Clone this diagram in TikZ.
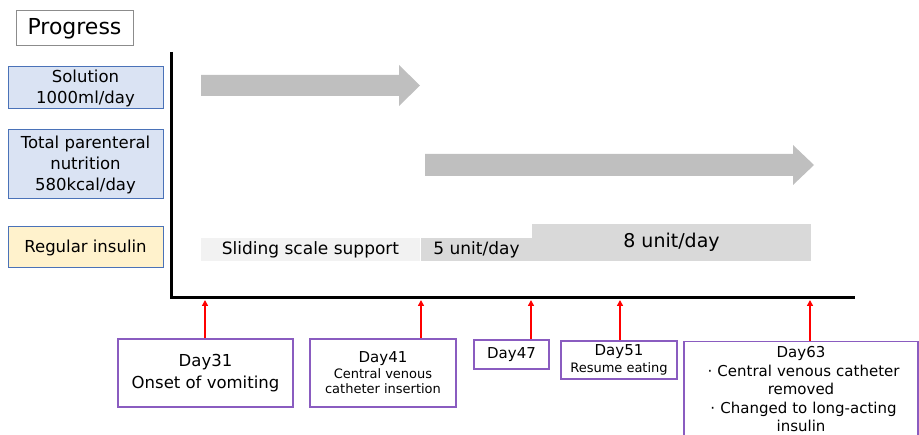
\documentclass[tikz,border=0pt]{standalone}
\usepackage{fontspec}
\setmainfont{DejaVu Sans}
\usepackage{tikz}
\usetikzlibrary{arrows.meta,positioning}
\usepackage{xcolor}
\definecolor{RowBlue}{HTML}{DAE3F3}
\definecolor{RowEdge}{HTML}{4A72B8}
\definecolor{RowYellow}{HTML}{FFF2CC}
\definecolor{FrameGray}{HTML}{8C8C8C}
\definecolor{EventPurple}{HTML}{8A5CC0}
\definecolor{ArrowGray}{HTML}{BFBFBF}
\definecolor{BarLight}{HTML}{F2F2F2}
\definecolor{BarMid}{HTML}{D9D9D9}

\newcommand{\fs}[2]{\fontsize{#1}{#2}\selectfont}

\begin{document}
\begin{tikzpicture}[x=1pt, y=-1pt,
  row/.style={draw=RowEdge, line width=1pt, minimum width=155pt, inner sep=0pt,
              align=center, font=\fs{16.5}{21}},
  evt/.style={draw=EventPurple, line width=1.2pt, inner sep=0pt, align=center},
  bar/.style={inner sep=0pt, font=\fs{17}{20}},
  tick/.style={draw=red, line width=1.6pt, -{Triangle[length=6pt,width=6pt]}}
]
  \useasboundingbox (0,0) rectangle (919,435);

  \node[draw=FrameGray, line width=1pt, minimum width=117pt, minimum height=35pt,
        inner sep=0pt, font=\fs{22}{24}] (prog) at (74.5,28.5) {Progress};

  % left hand labels
  \node[row, fill=RowBlue, minimum height=42pt] (sol) at (85.5,88)
    {Solution\\1000ml/day};
  \node[row, fill=RowBlue, minimum height=69pt] (tpn) at (85.5,164.5)
    {Total parenteral\\nutrition\\580kcal/day};
  \node[row, fill=RowYellow, minimum height=41pt] (ins) at (85.5,247.5)
    {Regular insulin};

  % axes
  \draw[line width=3pt] (171,52) -- (171,298) -- (855,298);

  % gray arrows
  \fill[ArrowGray] (201,75) -- (399,75) -- (399,65) -- (420,85.5) -- (399,106)
    -- (399,96) -- (201,96) -- cycle;
  \fill[ArrowGray] (425,154) -- (793,154) -- (793,145) -- (814,165) -- (793,185)
    -- (793,176) -- (425,176) -- cycle;

  % insulin bars
  \node[bar, fill=BarLight, minimum width=219pt, minimum height=23pt] (ssc)
    at (310.5,249.5) {Sliding scale support};
  \node[bar, fill=BarMid, minimum width=111pt, minimum height=23pt] (u5)
    at (476.5,249.5) {5 unit/day};
  \node[bar, fill=BarMid, minimum width=279pt, minimum height=37pt, font=\fs{19}{22}]
    (u8) at (671.5,242.5) {8 unit/day};

  % events
  \node[evt, minimum width=175pt, minimum height=68pt, font=\fs{16.5}{22}] (d31)
    at (205.5,373) {Day31\\Onset of vomiting};
  \node[evt, minimum width=146pt, minimum height=68pt, font=\fs{13}{15.5}] (d41)
    at (383,373) {{\fs{15}{17}Day41}\\Central venous\\catheter insertion};
  \node[evt, minimum width=75pt, minimum height=29pt, font=\fs{15}{17}] (d47)
    at (511.5,354.5) {Day47};
  \node[evt, minimum width=116pt, minimum height=38pt, font=\fs{13}{17}] (d51)
    at (619,360) {{\fs{15}{17}Day51}\\Resume eating};
  % runs off the bottom edge
  \node[evt, anchor=north, text width=234pt, inner ysep=5pt,
        font=\fs{15}{18.5}] (d63) at (801,341)
    {Day63\\{\makebox[15pt]{·}}Central venous catheter\\removed\\
     {\makebox[15pt]{·}}Changed to long-acting\\insulin\\[-8pt]\mbox{}};

  \coordinate (a31) at (205,300);
  \coordinate (a41) at (421,300);
  \coordinate (a47) at (531,300);
  \coordinate (a51) at (620,300);
  \coordinate (a63) at (810,300);

  \draw[tick] (d31.north -| a31) -- (a31);
  \draw[tick] (d41.north -| a41) -- (a41);
  \draw[tick] (d47.north -| a47) -- (a47);
  \draw[tick] (d51.north -| a51) -- (a51);
  \draw[tick] (d63.north -| a63) -- (a63);
\end{tikzpicture}
\end{document}
